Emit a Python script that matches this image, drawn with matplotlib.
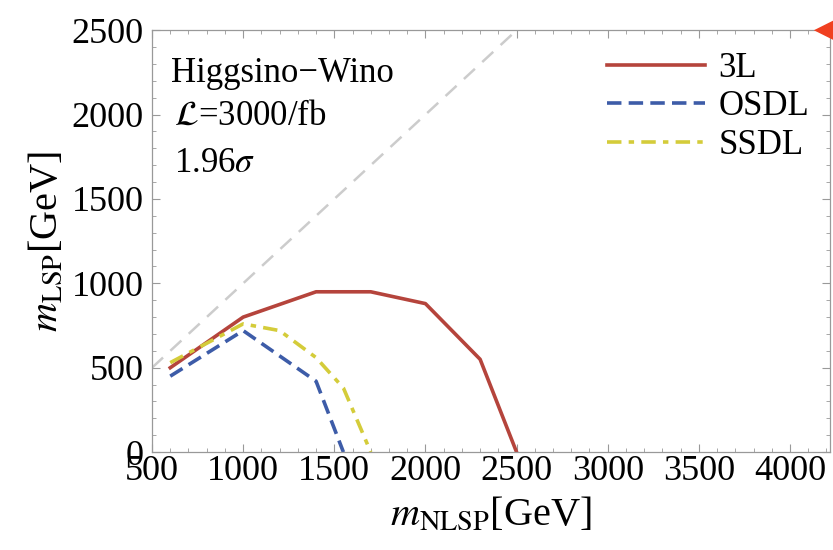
import matplotlib
matplotlib.use("Agg")
import matplotlib.pyplot as plt

plt.rcParams['font.family'] = ['Liberation Serif', 'DejaVu Serif']
plt.rcParams['mathtext.fontset'] = 'stix'

# curves (m_NLSP, m_LSP) in GeV
x_3l = [600, 1000, 1400, 1700, 2000, 2300, 2500]
y_3l = [500, 800, 950, 950, 880, 550, 0]

x_osdl = [600, 1000, 1400, 1550]
y_osdl = [450, 720, 420, 0]

x_ssdl = [600, 1000, 1200, 1400, 1550, 1700]
y_ssdl = [530, 760, 720, 560, 380, 0]

diag = [500, 2500]

xticks = [500, 1000, 1500, 2000, 2500, 3000, 3500, 4000]
yticks = [0, 500, 1000, 1500, 2000, 2500]

fig = plt.figure(figsize=(8.33, 5.5), dpi=100)
ax = fig.add_axes([0.1825, 0.178, 0.814, 0.767])

ax.plot(diag, diag, color='#cccccc', lw=1.8, ls=(0, (6, 4)))
ax.plot(x_3l, y_3l, color='#b5443c', lw=2.6, label='3L')
ax.plot(x_osdl, y_osdl, color='#3d5ca8', lw=2.6, ls=(0, (4, 2)), label='OSDL')
ax.plot(x_ssdl, y_ssdl, color='#d4cc3a', lw=2.6, ls=(0, (4, 2, 1.5, 2)), label='SSDL')

ax.set_xlim(500, 4220)
ax.set_ylim(0, 2500)
ax.set_xticks(xticks)
ax.set_yticks(yticks)
ax.minorticks_on()
ax.tick_params(which='both', direction='in', top=True, right=True,
               color='#999999', labelsize=26)
ax.tick_params(axis='y', pad=6)
ax.tick_params(axis='x', pad=2)
ax.tick_params(which='major', length=6)
ax.tick_params(which='minor', length=3)
for s in ax.spines.values():
    s.set_color('#999999')
    s.set_linewidth(0.9)

ax.set_xlabel(r'$m_{\rm NLSP}$[GeV]', fontsize=29, labelpad=6)
ax.set_ylabel(r'$m_{\rm LSP}$[GeV]', fontsize=29, labelpad=4)

ax.text(0.028, 0.878, 'Higgsino\u2212Wino', transform=ax.transAxes, fontsize=25, va='baseline')
ax.text(0.033, 0.775, r'$\mathcal{L}$=3000/fb', transform=ax.transAxes, fontsize=25, va='baseline')
ax.text(0.033, 0.665, r'1.96$\sigma$', transform=ax.transAxes, fontsize=25, va='baseline')

ax.legend(loc='upper right', bbox_to_anchor=(0.995, 0.99), frameon=False, fontsize=25,
          handlelength=2.8, handletextpad=0.4, labelspacing=0.16, borderaxespad=0.1)

# red pointer at the top right corner
ax.annotate('', xy=(0.972, 1.0), xytext=(1.05, 1.0), xycoords='axes fraction',
            arrowprops=dict(arrowstyle='-|>', color='#f04020', lw=0,
                            mutation_scale=40), annotation_clip=False)

fig.savefig('out.png', dpi=100)
